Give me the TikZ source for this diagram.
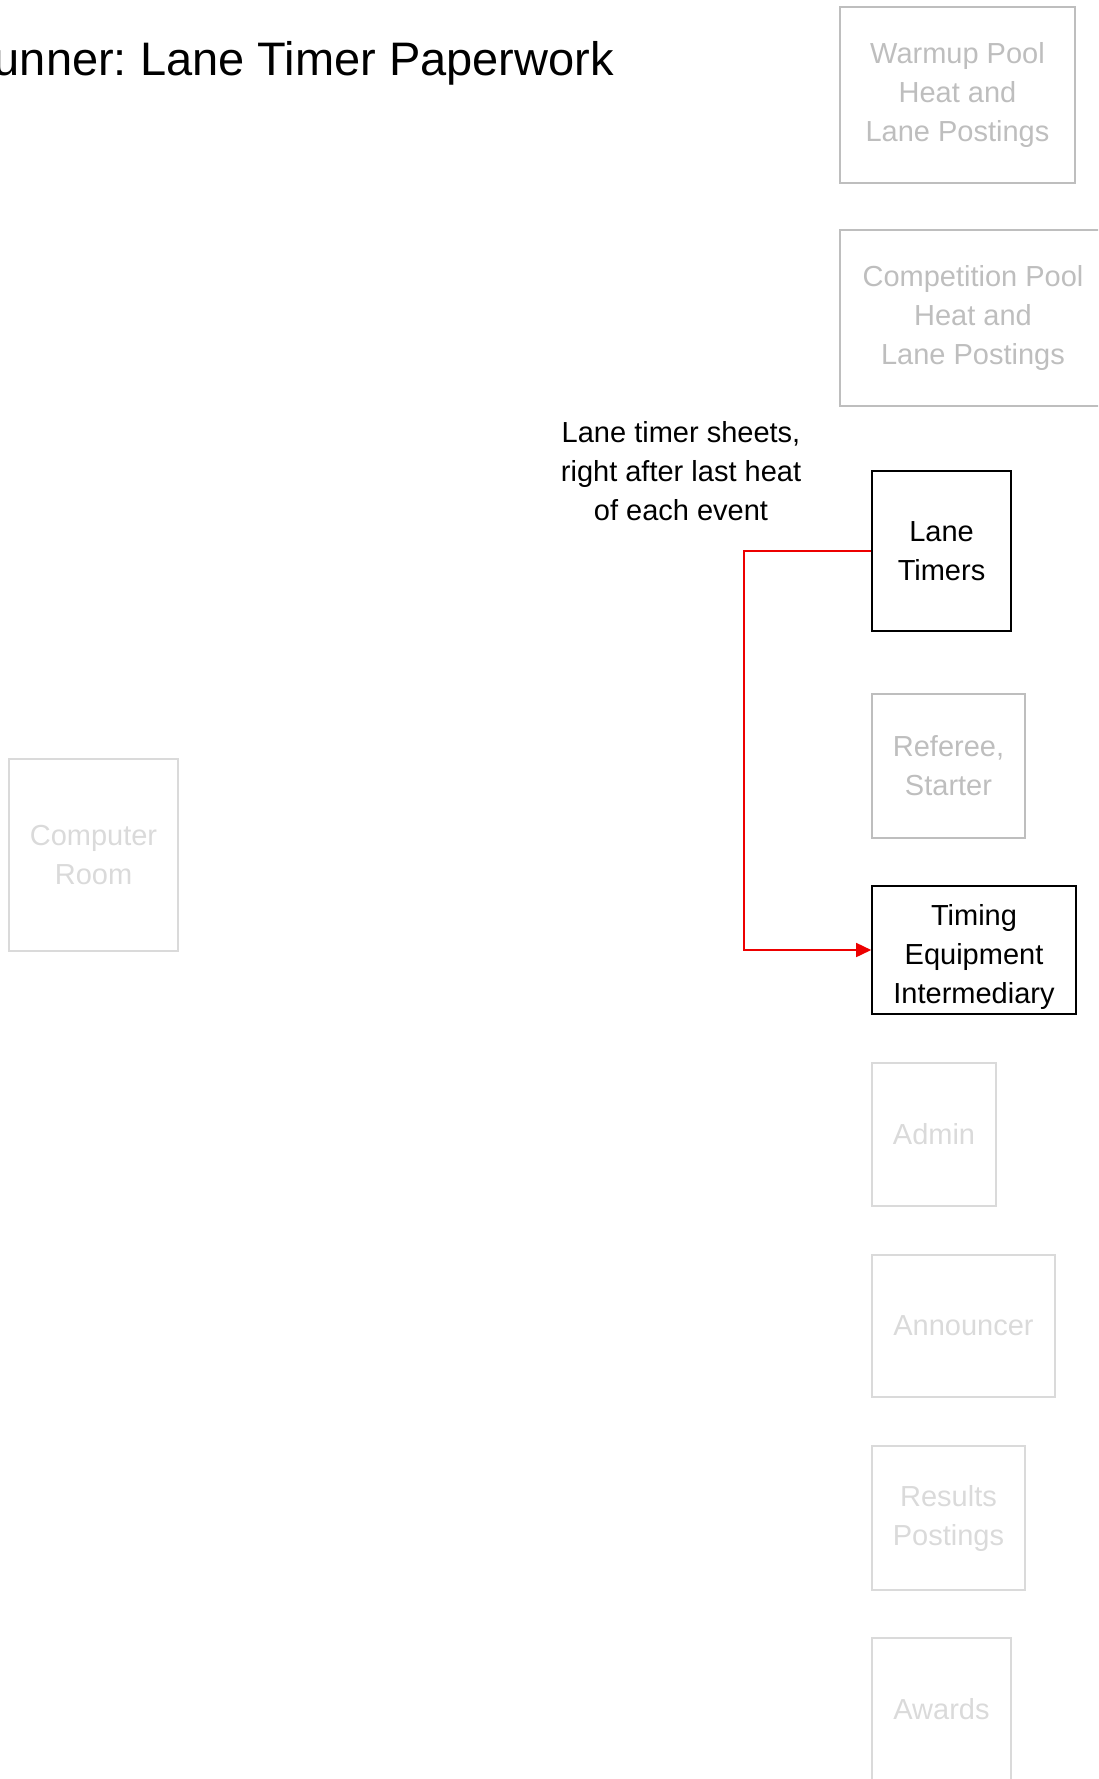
\documentclass[tikz,border=0pt]{standalone}
\usepackage{fontspec}
\setmainfont{Liberation Sans}
\usepackage{tikz}
\usetikzlibrary{arrows.meta}
\frenchspacing

\definecolor{paleA}{RGB}{190,190,190}
\definecolor{paleB}{RGB}{218,218,218}
\definecolor{flowred}{RGB}{237,0,0}

\tikzset{
	unit/.style = {draw, line width = 1.6pt, align = center, inner sep = 0pt,
		font = \fontsize{29}{39}\selectfont},
	active/.style = {unit, draw = black, text = black},
	faded/.style = {unit, draw = paleA, text = paleA},
	fainter/.style = {unit, draw = paleB, text = paleB},
}

\begin{document}
\begin{tikzpicture}[x = 1pt, y = -1pt]
	\useasboundingbox (0, 0) rectangle (1098, 1779);
	\clip (0, 0) rectangle (1098, 1779);

	% heading, cut at the left edge
	\node[anchor = base east, inner sep = 0pt, font = \fontsize{47}{56}\selectfont] (title) at (614, 76) {Runner: Lane Timer Paperwork};

	% stations down the right side
	\node[faded, minimum width = 235pt, minimum height = 176pt] (warmup) at (957.5, 95) {Warmup Pool\\Heat and\\Lane Postings};
	\node[faded, minimum width = 266pt, minimum height = 176pt] (comp) at (973, 318) {Competition Pool\\Heat and\\Lane Postings};
	\node[active, minimum width = 139pt, minimum height = 160pt] (timers) at (941.5, 551) {Lane\\Timers};
	\node[faded, minimum width = 153pt, minimum height = 144pt] (referee) at (948.5, 766) {Referee,\\Starter};
	\node[active, minimum width = 204pt, minimum height = 128pt, text height = 112pt] (equip) at (974, 950) {Timing\\Equipment\\Intermediary};
	\node[fainter, minimum width = 124pt, minimum height = 143pt] (admin) at (934, 1134.5) {Admin};
	\node[fainter, minimum width = 183pt, minimum height = 142pt] (announce) at (963.5, 1326) {Announcer};
	\node[fainter, minimum width = 153pt, minimum height = 144pt] (results) at (948.5, 1518) {Results\\Postings};
	\node[fainter, minimum width = 139pt, minimum height = 142pt] (awards) at (941.5, 1709) {Awards};

	% room on the left
	\node[fainter, minimum width = 169pt, minimum height = 192pt] (computer) at (93.5, 855) {Computer\\Room};

	% paperwork flow
	\node[align = center, font = \fontsize{29}{39}\selectfont] (sheets) at (681, 471) {Lane timer sheets,\\right after last heat\\of each event};
	\draw[flowred, line width = 1.6pt, -{Triangle[length = 15pt, width = 14pt]}] (timers.west) -- ++(-127, 0) |- (equip.west);
\end{tikzpicture}
\end{document}
